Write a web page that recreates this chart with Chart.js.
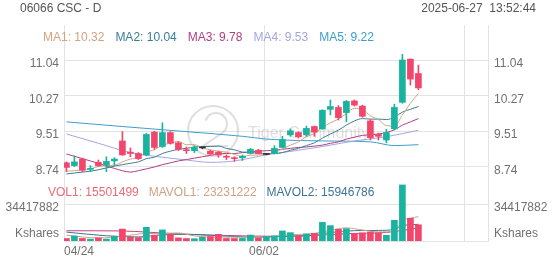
<!DOCTYPE html>
<html>
<head>
<meta charset="utf-8">
<script src="https://cdn.jsdelivr.net/npm/chart.js@4.4.0/dist/chart.umd.min.js"></script>
<style>
  html, body { margin: 0; padding: 0; background: #fff; }
  #wrap { position: relative; width: 552px; height: 265px; font-family: "Liberation Sans", Arial, sans-serif; font-size: 12px; }
  #kline { position: absolute; left: 0; top: 0; }
  .txt { position: absolute; white-space: nowrap; line-height: 14px; }
  #maRow span { margin-right: 11px; }
  #volRow span { margin-right: 10px; }
</style>
</head>
<body>
<div id="wrap">
  <canvas id="kline" width="552" height="265"></canvas>
  <div class="txt" style="left:20px;top:1px;color:#555">06066 CSC - D</div>
  <div class="txt" style="right:16px;top:1px;color:#555">2025-06-27&nbsp;&nbsp;13:52:44</div>
  <div class="txt" id="maRow" style="left:43px;top:30px"></div>
  <div class="txt" id="volRow" style="left:48px;top:185px"></div>
</div>
<script>
// daily candles, 04/24 .. 06/27
const opens  = [8.83, 8.77, 8.91, 8.69, 8.84, 8.78, 8.87, 9.30, 9.06, 9.03,
                9.00, 9.49, 9.18, 9.48, 9.26, 9.11, 9.09, 9.15, 9.08, 9.06,
                8.97, 8.94, 8.94, 9.03, 9.10, 9.01, 9.03, 9.16, 9.43, 9.48,
                9.43, 9.61, 9.56, 9.98, 10.02, 9.91, 10.16, 10.05, 9.73, 9.44,
                9.32, 9.56, 10.13, 11.06, 10.75];
const highs  = [8.85, 8.98, 8.93, 8.77, 8.89, 8.96, 8.94, 9.50, 9.15, 9.05,
                9.46, 9.51, 9.69, 9.50, 9.28, 9.17, 9.20, 9.17, 9.10, 9.08,
                9.00, 8.96, 9.00, 9.14, 9.12, 9.03, 9.20, 9.40, 9.56, 9.50,
                9.62, 9.62, 9.97, 10.18, 10.06, 10.17, 10.18, 10.07, 9.76, 9.47,
                9.55, 10.09, 11.16, 11.06, 10.93];
const lows   = [8.64, 8.75, 8.64, 8.64, 8.75, 8.64, 8.77, 8.99, 8.96, 8.90,
                8.98, 9.12, 9.16, 9.23, 9.09, 9.03, 9.05, 9.13, 9.01, 8.95,
                8.90, 8.86, 8.88, 9.02, 9.02, 9.00, 9.02, 9.15, 9.40, 9.36,
                9.40, 9.40, 9.55, 9.86, 9.75, 9.71, 10.05, 9.81, 9.32, 9.32,
                9.26, 9.54, 10.11, 10.50, 10.40];
const closes = [8.73, 8.85, 8.67, 8.71, 8.77, 8.86, 8.91, 9.00, 9.03, 8.92,
                9.44, 9.16, 9.48, 9.25, 9.12, 9.09, 9.16, 9.15, 9.02, 9.00,
                8.95, 8.92, 8.97, 9.12, 9.03, 9.01, 9.14, 9.33, 9.52, 9.39,
                9.57, 9.49, 9.96, 10.04, 9.80, 10.15, 10.07, 9.83, 9.37, 9.40,
                9.48, 10.02, 11.04, 10.63, 10.44];
const volumes = [2.4e6, 4.8e6, 2.5e6, 1.8e6, 3.0e6, 1.8e6, 4.5e6, 11.4e6, 3.6e6, 3.3e6,
                 13.1e6, 5.6e6, 10.6e6, 6.2e6, 3.0e6, 2.4e6, 2.2e6, 3.5e6, 4.2e6, 6.4e6,
                 2.4e6, 2.4e6, 2.5e6, 5.7e6, 2.8e6, 4.1e6, 4.8e6, 9.6e6, 8.0e6, 4.8e6,
                 6.7e6, 7.3e6, 17.8e6, 14.7e6, 11.2e6, 11.8e6, 7.2e6, 7.8e6, 8.6e6, 7.9e6,
                 5.5e6, 19.8e6, 53.6e6, 21.8e6, 15501499];

// moving averages
const ma1 = [8.65, 8.66, 8.68, 8.70, 8.75, 8.77, 8.78, 8.85, 8.91, 8.94,
             9.06, 9.11, 9.21, 9.25, 9.29, 9.22, 9.22, 9.15, 9.11, 9.08,
             9.06, 9.01, 8.97, 8.99, 9.00, 9.01, 9.05, 9.13, 9.21, 9.28,
             9.39, 9.46, 9.59, 9.69, 9.77, 9.89, 10.00, 9.98, 9.84, 9.76,
             9.63, 9.62, 9.86, 10.11, 10.32];
const ma2 = [8.59, 8.61, 8.63, 8.65, 8.68, 8.72, 8.76, 8.79, 8.82, 8.85,
             8.92, 8.95, 9.03, 9.08, 9.12, 9.14, 9.17, 9.18, 9.18, 9.19,
             9.14, 9.11, 9.06, 9.05, 9.04, 9.03, 9.03, 9.05, 9.10, 9.14,
             9.20, 9.26, 9.36, 9.45, 9.53, 9.64, 9.73, 9.78, 9.77, 9.77,
             9.76, 9.81, 9.92, 9.98, 10.04];
const ma3 = [9.02, 8.97, 8.92, 8.87, 8.82, 8.76, 8.71, 8.66, 8.63, 8.66,
             8.70, 8.74, 8.79, 8.83, 8.87, 8.90, 8.93, 8.96, 8.99, 9.02,
             9.03, 9.03, 9.05, 9.07, 9.08, 9.09, 9.10, 9.12, 9.14, 9.16,
             9.17, 9.19, 9.21, 9.25, 9.28, 9.34, 9.38, 9.42, 9.43, 9.45,
             9.48, 9.54, 9.64, 9.71, 9.78];
const ma4Idx = [0, 4, 8, 12, 15, 18, 21, 25, 29, 32, 36, 40, 44];
const ma4    = [9.45, 9.25, 9.05, 8.95, 8.89, 8.84, 8.87, 9.00, 9.10, 9.18, 9.30, 9.39, 9.53];
const ma5Idx = [0, 7, 15, 22, 25, 29, 32, 38, 41, 44];
const ma5    = [9.71, 9.61, 9.50, 9.40, 9.34, 9.31, 9.30, 9.28, 9.20, 9.22];

const mavol1Idx = [0, 4, 7, 10, 12, 14, 16, 19, 22, 25, 27, 29, 31, 33, 35, 37, 39, 41, 42, 43, 44];
const mavol1    = [5.5e6, 2.9e6, 4.5e6, 7.2e6, 7.2e6, 7.7e6, 4.9e6, 3.7e6, 3.6e6, 3.5e6, 5.4e6,
                   6.3e6, 7.3e6, 10.3e6, 12.6e6, 10.5e6, 8.7e6, 9.9e6, 19.1e6, 21.7e6, 23231222];
const mavol2Idx = [0, 5, 9, 12, 15, 18, 21, 24, 27, 30, 33, 36, 39, 41, 42, 43, 44];
const mavol2    = [8.5e6, 5.0e6, 3.9e6, 5.9e6, 6.4e6, 5.4e6, 4.3e6, 3.5e6, 4.5e6, 5.1e6, 8.1e6,
                   9.9e6, 10.1e6, 11.2e6, 14.8e6, 15.5e6, 15946786];
const mavol3Idx = [0, 7, 10, 15, 20, 25, 30, 35, 40, 44];
const mavol3    = [9.8e6, 9.6e6, 8.5e6, 6.5e6, 5.3e6, 4.6e6, 5.0e6, 7.0e6, 8.2e6, 12.4e6];

const priceTicks = [8.74, 9.51, 10.27, 11.04];
const volTick = 34417882;
const xTickIdx = [0, 25, 50];
const xTickLabels = ['04/24', '06/02', ''];

const UP = '#1ab3a0', DOWN = '#f2466c', FLAT = '#333333';
const GRID = '#e3e3e3', LABEL = '#707070';
const maColors = ['#d4a37f', '#3a7d95', '#b13d80', '#a3a6df', '#3c9fcc'];
const volColors = ['#ec6a78', '#c9a487', '#3d7496', '#c2447e'];

const candleColor = closes.map((c, i) => c > opens[i] ? UP : (c < opens[i] ? DOWN : FLAT));
const volColor = closes.map((c, i) => c >= opens[i] ? UP : DOWN);
const pts = (idx, vals) => idx.map((x, k) => ({ x: x, y: vals[k] }));
const full = vals => vals.map((v, i) => ({ x: i, y: v }));

// legends
const maVals = [ma1, ma2, ma3, ma4, ma5].map(a => a[a.length - 1]);
document.getElementById('maRow').innerHTML = maVals
  .map((v, k) => `<span style="color:${maColors[k]}">MA${k + 1}: ${v.toFixed(2)}</span>`).join('');
document.getElementById('volRow').innerHTML =
  `<span style="color:${volColors[0]}">VOL1: ${volumes[volumes.length - 1]}</span>` +
  `<span style="color:${volColors[1]}">MAVOL1: ${mavol1[mavol1.length - 1]}</span>` +
  `<span style="color:${volColors[2]}">MAVOL2: ${mavol2[mavol2.length - 1]}</span>`;

const watermark = {
  id: 'watermark',
  beforeDatasetsDraw(chart) {
    const c = chart.ctx;
    c.save();
    c.strokeStyle = 'rgba(150,150,150,0.3)';
    c.lineWidth = 2;
    c.beginPath();
    c.arc(213, 131, 25, 0, Math.PI * 2);
    c.stroke();
    c.beginPath();
    c.arc(216, 124, 11, Math.PI * 1.1, Math.PI * 0.3);
    c.lineTo(203, 146);
    c.lineTo(228, 146);
    c.stroke();
    c.font = '16px "Liberation Sans", Arial, sans-serif';
    c.fillStyle = 'rgba(150,150,150,0.3)';
    c.fillText('Tiger Community', 248, 138);
    c.restore();
  }
};

const sideWidth = s => { s.width = 64; };
const tickFont = { family: '"Liberation Sans", Arial, sans-serif', size: 12 };

new Chart(document.getElementById('kline'), {
  type: 'bar',
  data: {
    datasets: [
      { label: 'wick', yAxisID: 'priceL', grouped: false, barThickness: 1,
        data: lows.map((l, i) => ({ x: i, y: [l, highs[i]] })), backgroundColor: candleColor },
      { label: 'body', yAxisID: 'priceL', grouped: false, barThickness: 6, minBarLength: 1,
        data: opens.map((o, i) => ({ x: i, y: [o, closes[i]] })), backgroundColor: candleColor },
      { label: 'vol', yAxisID: 'volL', grouped: false, barThickness: 6,
        data: full(volumes), backgroundColor: volColor },
      { type: 'line', label: 'MA1', yAxisID: 'priceL', data: full(ma1), borderColor: maColors[0] },
      { type: 'line', label: 'MA2', yAxisID: 'priceL', data: full(ma2), borderColor: maColors[1] },
      { type: 'line', label: 'MA3', yAxisID: 'priceL', data: full(ma3), borderColor: maColors[2] },
      { type: 'line', label: 'MA4', yAxisID: 'priceL', data: pts(ma4Idx, ma4), borderColor: maColors[3] },
      { type: 'line', label: 'MA5', yAxisID: 'priceL', data: pts(ma5Idx, ma5), borderColor: maColors[4] },
      { type: 'line', label: 'MAVOL1', yAxisID: 'volL', data: pts(mavol1Idx, mavol1), borderColor: volColors[1] },
      { type: 'line', label: 'MAVOL2', yAxisID: 'volL', data: pts(mavol2Idx, mavol2), borderColor: volColors[2] },
      { type: 'line', label: 'MAVOL3', yAxisID: 'volL', data: pts(mavol3Idx, mavol3), borderColor: volColors[3] }
    ]
  },
  options: {
    responsive: false,
    animation: false,
    layout: { padding: { top: 25, left: 0, right: 0, bottom: 0 } },
    datasets: {
      line: { borderWidth: 1, pointRadius: 0, cubicInterpolationMode: 'monotone' },
      bar: { borderWidth: 0 }
    },
    plugins: { legend: { display: false }, tooltip: { enabled: false } },
    scales: {
      x: {
        type: 'linear', min: -0.3, max: 52.7, offset: false,
        afterBuildTicks: s => { s.ticks = xTickIdx.map(v => ({ value: v - 0.3 })); },
        afterFit: s => { s.height = 24; },
        ticks: { callback: (v, i) => xTickLabels[i], align: 'inner', autoSkip: false, maxRotation: 0,
                 color: LABEL, font: tickFont, padding: 3 },
        grid: { color: GRID, drawTicks: false, offset: false },
        border: { color: GRID }
      },
      volL: {
        position: 'left', stack: 'left', stackWeight: 58, min: 0, max: 55.45e6,
        afterBuildTicks: s => { s.ticks = [{ value: 9.56e6 }, { value: volTick }]; },
        afterFit: sideWidth,
        ticks: { callback: v => v === volTick ? String(volTick) : 'Kshares', labelOffset: 3,
                 color: LABEL, font: tickFont, padding: 5 },
        grid: { drawTicks: false, color: c => c.tick && c.tick.value === volTick ? GRID : 'rgba(0,0,0,0)' },
        border: { color: GRID }
      },
      priceL: {
        position: 'left', stack: 'left', stackWeight: 158, min: 8.396, max: 11.7924,
        afterBuildTicks: s => { s.ticks = priceTicks.map(v => ({ value: v })); },
        afterFit: sideWidth,
        ticks: { callback: v => v.toFixed(2), labelOffset: 4, color: LABEL, font: tickFont, padding: 5 },
        grid: { color: GRID, drawTicks: false },
        border: { color: GRID }
      },
      priceR: {
        position: 'right', stack: 'right', stackWeight: 158, min: 8.396, max: 11.7924,
        afterBuildTicks: s => { s.ticks = priceTicks.map(v => ({ value: v })); },
        afterFit: sideWidth,
        ticks: { callback: v => v.toFixed(2), labelOffset: 4, color: LABEL, font: tickFont, padding: 6 },
        grid: { display: false, drawTicks: false },
        border: { color: GRID }
      },
      volR: {
        position: 'right', stack: 'right', stackWeight: 58, min: 0, max: 55.45e6,
        afterBuildTicks: s => { s.ticks = [{ value: 9.56e6 }, { value: volTick }]; },
        afterFit: sideWidth,
        ticks: { callback: v => v === volTick ? String(volTick) : 'Kshares', labelOffset: 3,
                 color: LABEL, font: tickFont, padding: 6 },
        grid: { display: false, drawTicks: false },
        border: { color: GRID }
      }
    }
  },
  plugins: [watermark]
});
</script>
</body>
</html>
